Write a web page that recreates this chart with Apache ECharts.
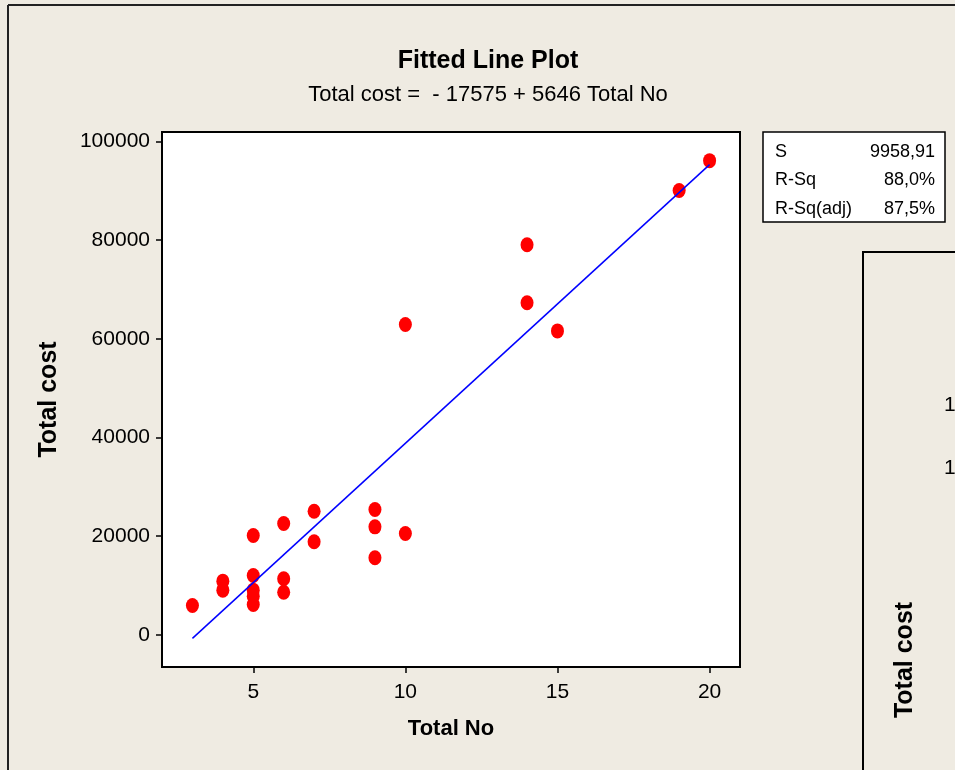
<!DOCTYPE html>
<html>
<head>
<meta charset="utf-8">
<title>Fitted Line Plot</title>
<script src="https://cdn.jsdelivr.net/npm/echarts@6/dist/echarts.min.js"></script>
<style>
  html, body { margin: 0; padding: 0; background: #efebe2; }
  #chart { width: 955px; height: 770px; }
</style>
</head>
<body>
<div id="chart"></div>
<script>
// values
const xTicks = [5, 10, 15, 20];
const yTicks = [0, 20000, 40000, 60000, 80000, 100000];
const totalNo = [3, 4, 4, 5, 5, 5, 5, 5, 6, 6, 6, 7, 7, 9, 9, 9, 10, 10, 14, 14, 15, 19, 20];
const totalCost = [5970, 10890, 9070, 20140, 12050, 9070, 7850, 6170, 22570, 11380, 8660,
  25060, 18870, 25400, 21900, 15630, 62900, 20550, 79050, 67300, 61600, 90040, 96100];
const fitX = [3, 20];
const fitY = [-700, 95300];
const statNames = ['S', 'R-Sq', 'R-Sq(adj)'];
const statValues = ['9958,91', '88,0%', '87,5%'];

const FONT = '"Liberation Sans", Arial, sans-serif';
const points = totalNo.map((x, i) => [x, totalCost[i]]);
const fitLine = fitX.map((x, i) => [x, fitY[i]]);

const graphics = [
  // outer frame
  { type: 'line', shape: { x1: 8, y1: 5, x2: 8, y2: 770 }, style: { stroke: '#222', lineWidth: 2 } },
  { type: 'line', shape: { x1: 8, y1: 5, x2: 955, y2: 5 }, style: { stroke: '#222', lineWidth: 2 } },
  // titles
  { type: 'text', x: 488, y: 61, style: { text: 'Fitted Line Plot', font: 'bold 25px ' + FONT, fill: '#000', align: 'center', verticalAlign: 'middle' } },
  { type: 'text', x: 488, y: 95, style: { text: 'Total cost =  - 17575 + 5646 Total No', font: '22px ' + FONT, fill: '#000', align: 'center', verticalAlign: 'middle' } },
  // stats box
  { type: 'rect', shape: { x: 763, y: 132, width: 182, height: 90 }, style: { fill: '#fff', stroke: '#000', lineWidth: 1.5 } },
  // second panel peeking in from the right
  { type: 'rect', shape: { x: 863, y: 252, width: 120, height: 560 }, style: { fill: '#efebe2', stroke: '#000', lineWidth: 2 } },
  { type: 'text', x: 944, y: 405, style: { text: '1', font: '21px ' + FONT, fill: '#000', verticalAlign: 'middle' } },
  { type: 'text', x: 944, y: 468, style: { text: '1', font: '21px ' + FONT, fill: '#000', verticalAlign: 'middle' } },
  { type: 'text', x: 905, y: 660, rotation: Math.PI / 2, style: { text: 'Total cost', font: 'bold 25px ' + FONT, fill: '#000', align: 'center', verticalAlign: 'middle' } }
];
statNames.forEach((name, i) => {
  const y = 152 + i * 28.3;
  graphics.push({ type: 'text', x: 775, y: y, style: { text: name, font: '18px ' + FONT, fill: '#000', verticalAlign: 'middle' } });
  graphics.push({ type: 'text', x: 935, y: y, style: { text: statValues[i], font: '18px ' + FONT, fill: '#000', align: 'right', verticalAlign: 'middle' } });
});

const chart = echarts.init(document.getElementById('chart'));
chart.setOption({
  backgroundColor: '#efebe2',
  animation: false,
  grid: {
    left: 162, top: 132, right: 215, bottom: 103,
    show: true, backgroundColor: '#fff', borderColor: '#000', borderWidth: 2
  },
  xAxis: {
    type: 'value', min: 2, max: 21,
    name: 'Total No', nameLocation: 'middle', nameGap: 51,
    nameTextStyle: { fontFamily: FONT, fontSize: 22, fontWeight: 'bold', color: '#000' },
    axisLine: { show: true, onZero: false, lineStyle: { color: '#000', width: 2 } },
    axisTick: { show: true, length: 6, lineStyle: { color: '#000', width: 1.5 }, customValues: xTicks },
    axisLabel: { margin: 15, fontFamily: FONT, fontSize: 21, color: '#000', customValues: xTicks },
    splitLine: { show: false }
  },
  yAxis: {
    type: 'value', min: -6500, max: 101900,
    name: 'Total cost', nameLocation: 'middle', nameGap: 100,
    nameTextStyle: { fontFamily: FONT, fontSize: 25, fontWeight: 'bold', color: '#000' },
    axisLine: { show: true, onZero: false, lineStyle: { color: '#000', width: 2 } },
    axisTick: { show: true, length: 6, lineStyle: { color: '#000', width: 1.5 }, customValues: yTicks },
    axisLabel: { margin: 12, fontFamily: FONT, fontSize: 21, color: '#000', customValues: yTicks, formatter: v => String(v) },
    splitLine: { show: false }
  },
  series: [
    {
      type: 'scatter', data: points, symbol: 'circle', symbolSize: [13, 15],
      itemStyle: { color: '#ff0000', opacity: 1 }, z: 2
    },
    {
      type: 'line', data: fitLine, showSymbol: false, symbol: 'none',
      lineStyle: { color: '#0000ff', width: 1.5 }, z: 3
    }
  ],
  graphic: graphics
});
</script>
</body>
</html>
